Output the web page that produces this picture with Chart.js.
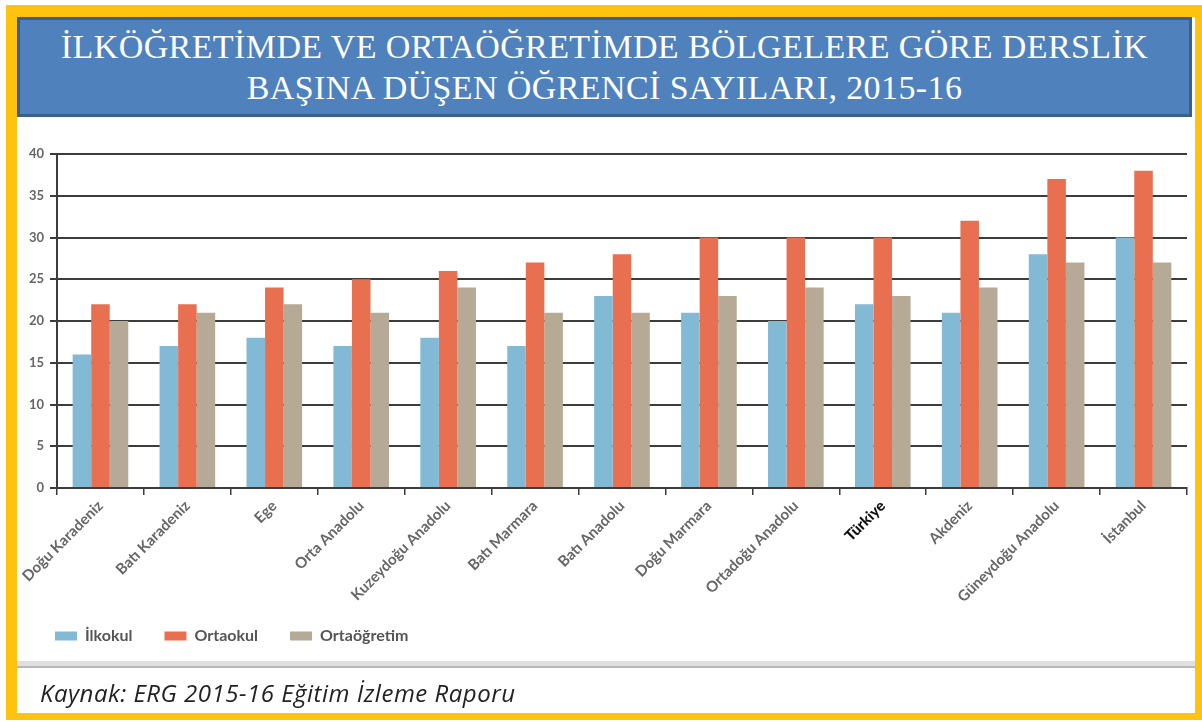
<!DOCTYPE html>
<html lang="tr">
<head>
<meta charset="utf-8">
<script src="https://cdn.jsdelivr.net/npm/chart.js@4.4.0/dist/chart.umd.min.js"></script>
<style>
  html, body { margin: 0; padding: 0; background: #fff; }
  body { width: 1202px; height: 722px; position: relative; overflow: hidden; }
  #frame { position: absolute; left: 6px; top: 5px; width: 1196px; height: 715px; background: #FFC20E; }
  #inner { position: absolute; left: 17px; top: 17px; width: 1178px; height: 696px; background: #fff; }
  #title {
    position: absolute; left: 17px; top: 17px; width: 1169px; height: 94px;
    background: #4F81BD; border: 3px solid #3A5F8F;
    color: #fff; font-family: "Liberation Serif", serif; font-size: 34px; line-height: 41px;
    letter-spacing: 0.4px; text-align: center; box-sizing: content-box;
  }
  #title div { padding-top: 6px; }
  #chart { position: absolute; left: 17px; top: 140px; }
  #sep { position: absolute; left: 17px; top: 661px; width: 1178px; height: 5px; background: #e0e0e0; border-bottom: 2px solid #b8b8b8; }
  #source { position: absolute; left: 40px; top: 679px; font-family: "Open Sans", sans-serif; font-style: italic; font-size: 24px; letter-spacing: 0.5px; line-height: 28px; color: #222; }
</style>
</head>
<body>
<div id="frame"></div>
<div id="inner"></div>
<div id="title"><div>İLKÖĞRETİMDE VE ORTAÖĞRETİMDE BÖLGELERE GÖRE DERSLİK<br>BAŞINA DÜŞEN ÖĞRENCİ SAYILARI, 2015-16</div></div>
<canvas id="chart" width="1178" height="542"></canvas>
<div id="sep"></div>
<div id="source">Kaynak: ERG 2015-16 Eğitim İzleme Raporu</div>
<script>
// Veriler
const bolgeler = ['Doğu Karadeniz', 'Batı Karadeniz', 'Ege', 'Orta Anadolu', 'Kuzeydoğu Anadolu', 'Batı Marmara',
    'Batı Anadolu', 'Doğu Marmara', 'Ortadoğu Anadolu', 'Türkiye', 'Akdeniz', 'Güneydoğu Anadolu', 'İstanbul'];
const ilkokul = [16, 17, 18, 17, 18, 17, 23, 21, 20, 22, 21, 28, 30];
const ortaokul = [22, 22, 24, 25, 26, 27, 28, 30, 30, 30, 32, 37, 38];
const ortaogretim = [20, 21, 22, 21, 24, 21, 21, 23, 24, 23, 24, 27, 27];
const yTicks = [0, 5, 10, 15, 20, 25, 30, 35, 40];

Chart.defaults.font.family = 'Lato, sans-serif';

const eksen = '#3c3c3c';

// lejant, etiketlerin hemen altina gelsin diye biraz yukari alinir
const lejantYukari = {
    id: 'lejantYukari',
    afterLayout(chart) {
        chart.legend.top -= 22;
        chart.legend.bottom -= 22;
    }
};

new Chart(document.getElementById('chart'), {
    type: 'bar',
    data: {
        labels: bolgeler,
        datasets: [
            { label: 'İlkokul', data: ilkokul, backgroundColor: '#82BAD6' },
            { label: 'Ortaokul', data: ortaokul, backgroundColor: '#E96F51' },
            { label: 'Ortaöğretim', data: ortaogretim, backgroundColor: '#B6A996' }
        ]
    },
    plugins: [lejantYukari],
    options: {
        responsive: false,
        animation: false,
        layout: { padding: { top: 14, right: 8, bottom: 6, left: 6 } },
        datasets: { bar: { barPercentage: 1.0, categoryPercentage: 0.64, borderWidth: 0 } },
        plugins: {
            legend: {
                position: 'bottom',
                align: 'start',
                labels: {
                    boxWidth: 22, boxHeight: 9, padding: 32,
                    color: '#555', font: { size: 16, weight: 'bold' }
                }
            },
            tooltip: { enabled: false }
        },
        scales: {
            x: {
                grid: { display: true, drawOnChartArea: false, offset: true, tickLength: 7, color: eksen, lineWidth: 1.5 },
                border: { display: true, color: eksen, width: 2 },
                ticks: {
                    autoSkip: false, maxRotation: 45, minRotation: 45, padding: 2,
                    color: function(c) { return bolgeler[c.index] === 'Türkiye' ? '#111' : '#666'; },
                    font: function(c) { return { size: 15, weight: bolgeler[c.index] === 'Türkiye' ? '900' : 'bold' }; }
                },
                afterFit: function(scale) { scale.height = 130; }
            },
            y: {
                min: 0, max: 40,
                afterBuildTicks: function(scale) { scale.ticks = yTicks.map(v => ({ value: v })); },
                grid: { color: eksen, lineWidth: 2, tickLength: 7 },
                border: { display: true, color: eksen, width: 2 },
                ticks: { padding: 6, color: '#666', font: { size: 13, weight: 'bold' } },
                afterFit: function(scale) { scale.width = 34; }
            }
        }
    }
});
</script>
</body>
</html>
